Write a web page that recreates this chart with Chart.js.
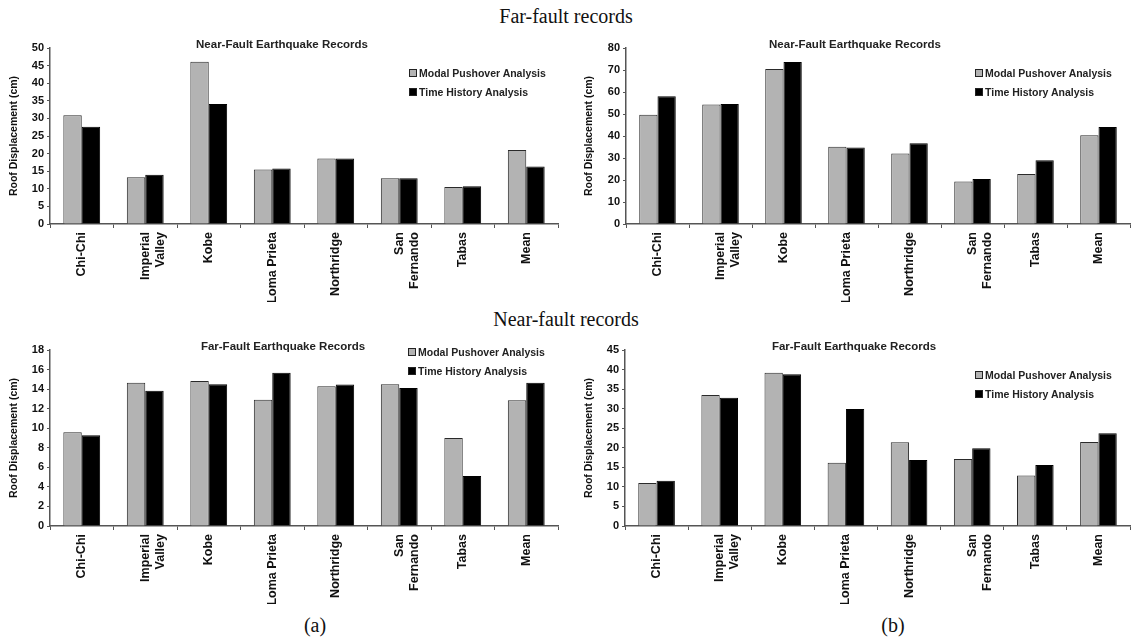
<!DOCTYPE html>
<html>
<head>
<meta charset="utf-8">
<script src="https://cdn.jsdelivr.net/npm/chart.js@4.4.1/dist/chart.umd.min.js"></script>
<style>
  body { margin: 0; background: #fff; width: 1131px; height: 642px; position: relative; overflow: hidden; }
  .box { position: absolute; width: 566px; height: 272px; }
  .head { position: absolute; font-family: "Liberation Serif", "Times New Roman", serif; font-size: 20px; color: #111; transform: translateX(-50%); white-space: nowrap; }
  .sub { position: absolute; font-family: "Liberation Sans", Arial, sans-serif; font-weight: bold; font-size: 11.5px; color: #222; transform: translateX(-50%); white-space: nowrap; }
  .leg { position: absolute; font-family: "Liberation Sans", Arial, sans-serif; font-weight: bold; font-size: 10.5px; color: #222; line-height: 19px; }
  .leg span.m { display: inline-block; width: 6px; height: 6px; border: 1px solid #222; margin-right: 2px; vertical-align: 0px; }
</style>
</head>
<body>
<div class="head" style="left:566px; top:5px;">Far-fault records</div>
<div class="head" style="left:566px; top:308px;">Near-fault records</div>
<div class="head" style="left:315px; top:614px;">(a)</div>
<div class="head" style="left:893px; top:614px;">(b)</div>

<div class="box" style="left:0; top:30px;"><canvas id="c1"></canvas></div>
<div class="box" style="left:565px; top:30px;"><canvas id="c2"></canvas></div>
<div class="box" style="left:0; top:332px;"><canvas id="c3"></canvas></div>
<div class="box" style="left:565px; top:332px;"><canvas id="c4"></canvas></div>

<div class="sub" style="left:282px; top:38px;">Near-Fault Earthquake Records</div>
<div class="sub" style="left:855px; top:38px;">Near-Fault Earthquake Records</div>
<div class="sub" style="left:283px; top:340px;">Far-Fault Earthquake Records</div>
<div class="sub" style="left:854px; top:340px;">Far-Fault Earthquake Records</div>

<div class="leg" style="left:409px; top:64px;"><span class="m" style="background:#b3b3b3"></span>Modal Pushover Analysis<br><span class="m" style="background:#000"></span>Time History Analysis</div>
<div class="leg" style="left:975px; top:64px;"><span class="m" style="background:#b3b3b3"></span>Modal Pushover Analysis<br><span class="m" style="background:#000"></span>Time History Analysis</div>
<div class="leg" style="left:408px; top:343px;"><span class="m" style="background:#b3b3b3"></span>Modal Pushover Analysis<br><span class="m" style="background:#000"></span>Time History Analysis</div>
<div class="leg" style="left:975px; top:366px;"><span class="m" style="background:#b3b3b3"></span>Modal Pushover Analysis<br><span class="m" style="background:#000"></span>Time History Analysis</div>

<script>
// records on the x axis
const records = ["Chi-Chi", ["Imperial", "Valley"], "Kobe", "Loma Prieta", "Northridge", ["San", "Fernando"], "Tabas", "Mean"];

// top row (a), near-fault records
const nearA_modal = [30.9, 13.3, 46.1, 15.5, 18.6, 13.0, 10.5, 21.0];
const nearA_time  = [27.6, 14.0, 34.1, 15.8, 18.6, 13.0, 10.7, 16.3];
// top row (b)
const nearB_modal = [49.7, 54.3, 70.4, 35.1, 32.1, 19.3, 22.7, 40.3];
const nearB_time  = [58.1, 54.6, 73.6, 34.8, 36.7, 20.5, 29.0, 44.1];
// bottom row (a), far-fault records
const farA_modal = [9.6, 14.66, 14.83, 12.92, 14.29, 14.49, 9.0, 12.85];
const farA_time  = [9.27, 13.84, 14.49, 15.68, 14.46, 14.12, 5.11, 14.66];
// bottom row (b)
const farB_modal = [11.0, 33.5, 39.2, 16.2, 21.4, 17.1, 12.9, 21.5];
const farB_time  = [11.6, 32.8, 38.8, 29.9, 16.9, 19.9, 15.6, 23.7];

// y axis ranges [max, step]
const yA_near = [50, 5];
const yB_near = [80, 10];
const yA_far = [18, 2];
const yB_far = [45, 5];

const FONT = "'Liberation Sans', Arial, sans-serif";

function makeChart(id, modal, time, yr, leftW, padRight, titlePad) {
  const ctx = document.getElementById(id).getContext("2d");
  return new Chart(ctx, {
    type: "bar",
    data: {
      labels: records,
      datasets: [
        { label: "Modal Pushover Analysis", data: modal, backgroundColor: "#b3b3b3", borderColor: "#2a2a2a", borderWidth: 1 },
        { label: "Time History Analysis", data: time, backgroundColor: "#000", borderColor: "#000", borderWidth: 1 },
      ],
    },
    options: {
      responsive: true,
      maintainAspectRatio: false,
      animation: false,
      layout: { padding: { left: 0, right: padRight, top: 18, bottom: 0 } },
      plugins: { legend: { display: false }, tooltip: { enabled: false } },
      datasets: { bar: { categoryPercentage: 0.58, barPercentage: 1.0 } },
      scales: {
        x: {
          grid: { display: true, drawOnChartArea: false, drawTicks: true, tickLength: 4, color: "#555" },
          border: { color: "#555", width: 1.5 },
          ticks: { maxRotation: 90, minRotation: 90, autoSkip: false, color: "#111", padding: 4, font: { family: FONT, size: 12.5, weight: "bold" } },
          afterFit: (s) => { s.height = 78; },
        },
        y: {
          min: 0,
          max: yr[0],
          grid: { display: true, drawOnChartArea: false, drawTicks: true, tickLength: 3, color: "#555" },
          border: { color: "#555", width: 1.5 },
          ticks: { stepSize: yr[1], color: "#111", padding: 3, font: { family: FONT, size: 11, weight: "bold" } },
          title: { display: true, text: "Roof Displacement (cm)", color: "#111", padding: { top: titlePad, bottom: 0 }, font: { family: FONT, size: 10.5, weight: "bold" } },
          afterFit: (s) => { s.width = leftW; },
        },
      },
    },
  });
}

makeChart("c1", nearA_modal, nearA_time, yA_near, 50, 8, 8);
makeChart("c2", nearB_modal, nearB_time, yB_near, 61, 1, 18);
makeChart("c3", farA_modal, farA_time, yA_far, 50, 8, 8);
makeChart("c4", farB_modal, farB_time, yB_far, 60, 1, 18);
</script>
</body>
</html>
